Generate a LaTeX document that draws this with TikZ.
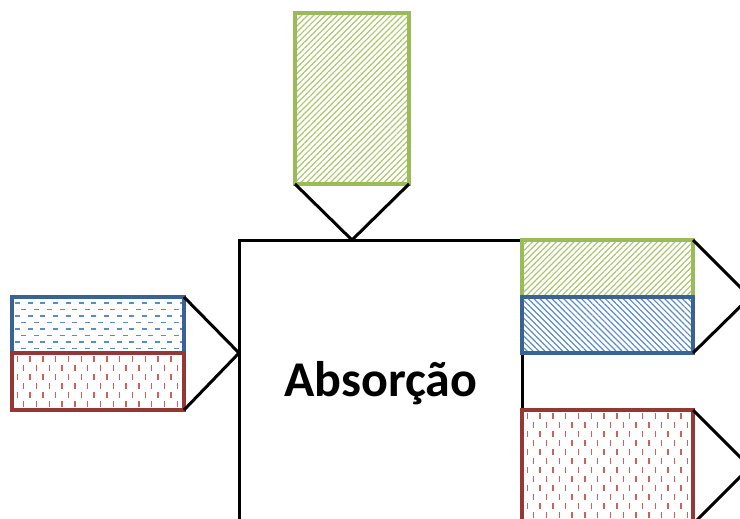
\documentclass[tikz,border=0pt]{standalone}
\usepackage{fontspec}
\setmainfont{Carlito}
\usetikzlibrary{patterns.meta}
\definecolor{gline}{HTML}{9BBB59}
\definecolor{gfill}{HTML}{A9C76E}
\definecolor{bline}{HTML}{3A6395}
\definecolor{bfill}{HTML}{5B8BC9}
\definecolor{rline}{HTML}{953735}
\definecolor{rfill}{HTML}{D0605C}
\tikzset{
  box/.style={draw, line width=3.5pt, inner sep=0pt, outer sep=0pt},
  greenbox/.style={box, draw=gline, pattern={Lines[angle=45,distance=4.2pt,line width=1.2pt]}, pattern color=gfill},
  bluediag/.style={box, draw=bline, pattern={Lines[angle=-45,distance=4.2pt,line width=1.2pt]}, pattern color=bfill},
  bluedash/.style={box, draw=bline, path picture={
     \foreach \i in {0,...,8}{
       \pgfmathsetmacro\ph{mod(\i,2)*6.3}
       \draw[bfill, line width=1.5pt, dash pattern=on 5pt off 7.7pt, dash phase=\ph pt]
         ([yshift={-(6+6.5*\i)*1pt}, xshift=3pt]path picture bounding box.north west) -- ++(200,0);
     }}},
  reddash/.style={box, draw=rline, path picture={
     \foreach \i in {0,...,30}{
       \pgfmathsetmacro\ph{mod(\i,2)*9}
       \draw[rfill, line width=1.5pt, dash pattern=on 6pt off 12pt, dash phase=\ph pt]
         ([xshift={(5.3+6.4*\i)*1pt}, yshift=-3pt]path picture bounding box.north west) -- ++(0,200);
     }}},
  conn/.style={draw=black, line width=3pt, line join=miter},
}
\begin{document}
\begin{tikzpicture}[x=1pt, y=-1pt]
\useasboundingbox (0,0) rectangle (740,519);
\begin{scope}
\clip (0,0) rectangle (740,519);
% main box
\node[draw=black, line width=3pt, minimum width=283pt, minimum height=320pt, inner sep=0pt] (main) at (380.5,400) {};
\node[font=\bfseries\fontsize{50}{60}\selectfont, anchor=base, inner sep=0pt] (lbl) at (381,396) {Absorção};
% top input
\node[greenbox, minimum width=114pt, minimum height=171pt] (top) at (352,98.5) {};
\coordinate (topapex) at (352,240);
\draw[conn] (top.south west) -- (topapex) -- (top.south east);
% left inputs
\node[bluedash, minimum width=172pt, minimum height=56pt] (lb) at (98,325) {};
\node[reddash, minimum width=172pt, minimum height=57pt] (lr) at (98,381.5) {};
\coordinate (leftapex) at (239,353);
\draw[conn] (lb.north east) -- (leftapex) -- (lr.south east);
% right outputs
\node[greenbox, minimum width=171pt, minimum height=57pt] (rg) at (607.5,268.5) {};
\node[bluediag, minimum width=171pt, minimum height=56pt] (rb) at (607.5,325) {};
\coordinate (rapex1) at (750,297);
\draw[conn] (rg.north east) -- (rapex1) -- (rb.south east);
\node[reddash, minimum width=171pt, minimum height=140pt] (rr) at (607.5,480) {};
\coordinate (rapex2) at (750,467);
\coordinate (rbot2) at (693,524);
\draw[conn] (rr.north east) -- (rapex2) -- (rbot2);
\end{scope}
\end{tikzpicture}
\end{document}
